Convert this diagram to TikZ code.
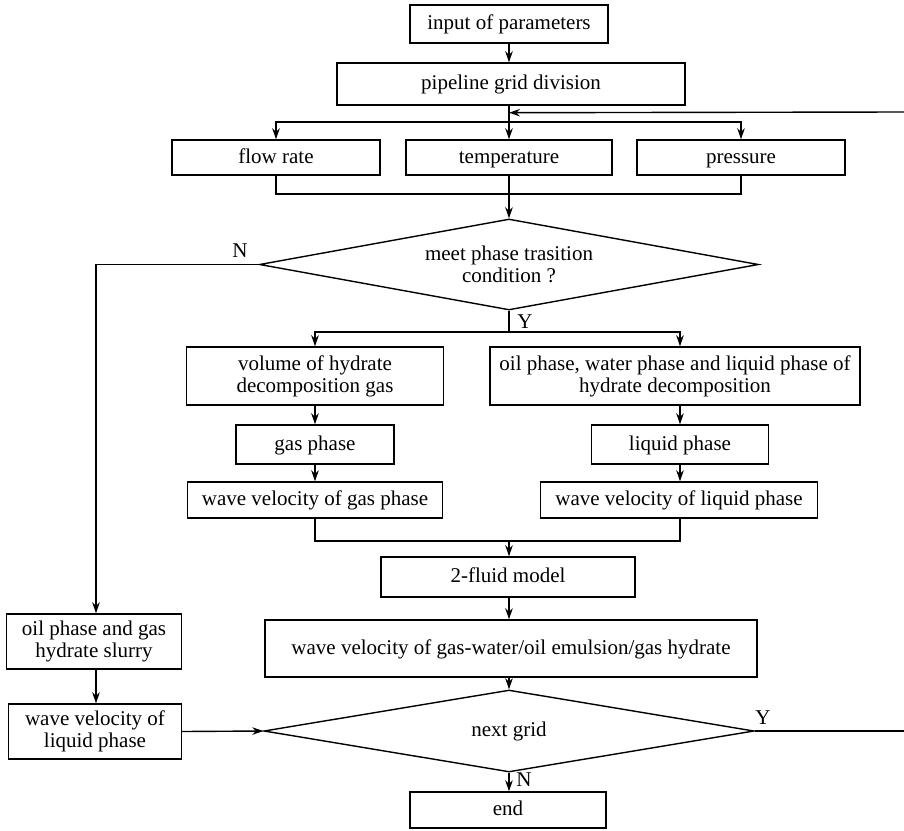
\documentclass[tikz,border=0pt]{standalone}
\usepackage{fontspec}
\setmainfont{Liberation Serif}
\usetikzlibrary{arrows.meta,shapes.geometric,calc}
\tikzset{
  box/.style={draw,line width=1.4pt,inner sep=0pt,align=center,font=\fontsize{21}{22}\selectfont},
  box1/.style={box,text height=15.5pt,text depth=4.5pt},
  dia/.style={draw,line width=1.4pt,shape=diamond,inner sep=0pt,align=center,font=\fontsize{21}{22}\selectfont},
  lab/.style={inner sep=0pt,font=\fontsize{21}{22}\selectfont},
  ln/.style={line width=1.4pt},
  arr/.style={line width=1.4pt,-{Stealth[length=11pt,width=7.5pt]}}
}
\begin{document}
\begin{tikzpicture}[x=1pt,y=-1pt]
\useasboundingbox (0,0) rectangle (904,830);
% nodes
\node[box1,minimum width=198,minimum height=38] (inp) at (509,24) {input of parameters};
\node[box1,minimum width=348,minimum height=42] (grid) at (511,84) {pipeline grid division};
\node[box1,minimum width=208,minimum height=35] (flow) at (276,157.5) {flow rate};
\node[box1,minimum width=206,minimum height=35] (temp) at (509,157.5) {temperature};
\node[box1,minimum width=208,minimum height=35] (pres) at (741,157.5) {pressure};
\node[dia,aspect=5.5,minimum width=499,minimum height=91] (d1) at (509,264.5) {meet phase trasition\\condition ?};
\node[box,minimum width=257,minimum height=58] (vol) at (315,376) {volume of hydrate\\decomposition gas};
\node[box,minimum width=370,minimum height=58] (oilw) at (675,376) {oil phase, water phase and liquid phase of\\hydrate decomposition};
\node[box1,minimum width=158,minimum height=39] (gas) at (315,444.5) {gas phase};
\node[box1,minimum width=177,minimum height=39] (liq) at (680,444.5) {liquid phase};
\node[box1,minimum width=255,minimum height=36] (wvg) at (315,500) {wave velocity of gas phase};
\node[box1,minimum width=277,minimum height=36] (wvl) at (679,500) {wave velocity of liquid phase};
\node[box1,minimum width=254,minimum height=40] (fluid) at (508,577) {2-fluid model};
\node[box1,minimum width=492,minimum height=57] (wvm) at (511,648.5) {wave velocity of gas-water/oil emulsion/gas hydrate};
\node[dia,aspect=6,minimum width=490,minimum height=82] (d2) at (509,731) {next grid};
\node[box1,minimum width=196,minimum height=36] (end) at (508,810) {end};
\node[box,minimum width=175,minimum height=55] (slurry) at (94,641.5) {oil phase and gas\\hydrate slurry};
\node[box,minimum width=173,minimum height=55] (wvl2) at (95,731.5) {wave velocity of\\liquid phase};
% labels
\node[lab] (n1) at (240,251) {N};
\node[lab] (y1) at (525,322) {Y};
\node[lab] (y2) at (763,718) {Y};
\node[lab] (n2) at (524,780) {N};
% coordinates
\coordinate (split) at (509,122);
\coordinate (ret) at (904,112);
\coordinate (m1) at (509,194);
\coordinate (split2) at (509,332);
\coordinate (m2) at (509,541);
\coordinate (out) at (904,731);
% connectors
\draw[arr] (inp.south) -- (inp.south |- grid.north);
\draw[arr] (grid.south -| temp.north) -- (temp.north);
\draw[arr] (split) -| (flow.north);
\draw[arr] (split) -| (pres.north);
\draw[arr] (ret) -- ($(grid.south -| temp.north)+(0,7)$);
\draw[ln] (flow.south) |- (pres.south |- m1) -- (pres.south);
\draw[ln] (temp.south) -- (m1);
\draw[arr] (m1) -- (d1.north);
\draw[arr] (d1.west) -| (slurry.north -| 96,0);
\draw[arr] (d1.south) -- (split2) -| (vol.north);
\draw[arr] (split2) -| (oilw.north -| liq.north);
\draw[arr] (vol.south) -- (gas.north);
\draw[arr] (oilw.south -| liq.north) -- (liq.north);
\draw[arr] (gas.south) -- (gas.south |- wvg.north);
\draw[arr] (liq.south) -- (liq.south |- wvl.north);
\draw[ln] (wvg.south) |- (m2) -| (wvg.south -| liq.south) -- (liq.south |- wvl.south);
\draw[arr] (m2) -- (fluid.north -| m2);
\draw[arr] (fluid.south -| m2) -- (wvm.north -| m2);
\draw[arr] (wvm.south -| d2.north) -- (d2.north);
\draw[arr] (d2.south) -- (end.north -| d2.south);
\draw[arr] (slurry.south -| 96,0) -- (wvl2.north -| 96,0);
\draw[arr] (wvl2.east) -- (d2.west);
\draw[ln] (d2.east) -- (out);
\end{tikzpicture}
\end{document}
